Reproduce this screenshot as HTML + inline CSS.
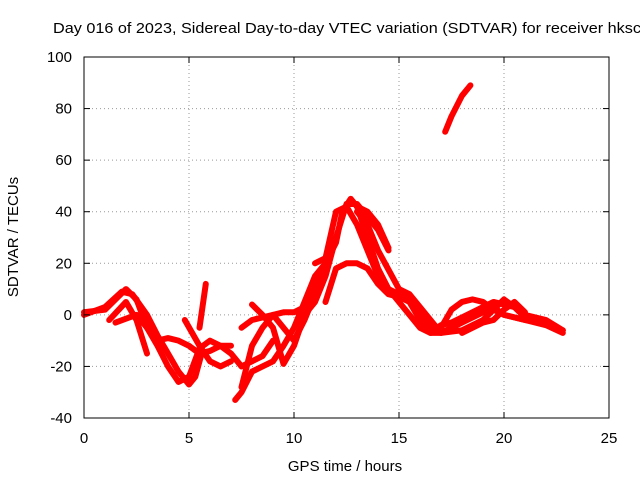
<!DOCTYPE html>
<html><head><meta charset="utf-8"><style>
html,body{margin:0;padding:0;background:#fff}
svg{display:block;font-family:"Liberation Sans",sans-serif;font-size:15px}
</style></head><body>
<svg id="chart" width="640" height="480">
<text x="53" y="33" textLength="588" lengthAdjust="spacingAndGlyphs">Day 016 of 2023, Sidereal Day-to-day VTEC variation (SDTVAR) for receiver hksc</text>
<g id="grid"></g><g id="series"></g>
<rect x="84" y="57" width="525" height="361" fill="none" stroke="#000" stroke-width="1"/>
<g id="axes"></g>
<text x="345" y="471" text-anchor="middle">GPS time / hours</text>
<text transform="translate(18,237) rotate(-90)" text-anchor="middle">SDTVAR / TECUs</text>
</svg>
<script>
const xTicks=[0,5,10,15,20,25];
const yTicks=[-40,-20,0,20,40,60,80,100];
const t1=[[0,0],[1,3],[1.8,9],[2.3,8],[3,0],[3.5,-8],[4,-15],[4.5,-22],[5,-27],[5.3,-24],[5.6,-15]];
const t2=[[0,1],[1,2],[2,10],[2.5,6],[3,-5],[3.5,-12],[4,-20],[4.5,-26],[5,-24],[5.5,-13],[6,-10],[6.5,-12],[7,-12]];
const t3=[[1.2,-2],[2,5],[2.5,-2],[3,-15]];
const t4=[[1.5,-3],[2.5,0],[3,-5],[3.5,-10],[4,-9],[4.5,-10],[5,-12],[5.5,-15],[6,-14],[6.5,-12],[7,-15],[7.5,-20],[8,-18],[8.5,-16],[9,-10]];
const t5=[[4.8,-2],[5.5,-12],[6,-18],[6.5,-20],[7,-18]];
const t6=[[5.5,-5],[5.8,12]];
const t7=[[7.2,-33],[7.5,-30],[8,-22],[8.5,-20],[9,-18],[9.5,-12],[10,-5],[10.5,5],[11,15],[11.5,20],[12,30]];
const t8=[[7.5,-28],[8,-12],[8.5,-5],[9,0],[9.5,-5],[10,-10],[10.5,-2],[11,8]];
const t9=[[8,4],[8.5,0],[9,-5],[9.5,-19],[10,-12],[10.5,0],[11,5],[11.5,15],[12,30],[12.5,43],[13,43],[13.5,38],[14,33],[14.5,25]];
const t10=[[7.5,-5],[8,-2],[9,0],[9.5,1],[10,1],[10.5,3],[11,10],[11.5,20],[12,28],[12.3,40],[12.7,45],[13,42],[13.5,30],[14,18],[14.5,10],[15,5],[15.5,0],[16,-5],[16.5,-7],[17,-7],[17.5,-5],[18,-3],[18.5,-1],[19,1],[19.5,3],[20,0],[21,-2],[22,-3],[22.8,-6]];
const t11=[[11,20],[11.5,22],[12,40],[12.5,42],[13,35],[13.5,25],[14,15],[14.5,10],[15,8],[15.5,6],[16,0],[16.5,-5],[17,-5],[17.5,2],[18,5],[18.5,6],[19,5],[19.5,2],[20,0],[21,-2],[22,-4],[22.8,-7]];
const t12=[[11.5,5],[12,18],[12.5,20],[13,20],[13.5,18],[14,12],[14.5,8],[15,7],[15.5,5],[16,-2],[16.5,-7],[17,-4],[17.5,-3],[18,-1],[19,3],[19.5,5],[20.5,3],[21,0],[22,-2],[22.8,-6]];
const t13=[[13,40],[13.5,35],[14,25],[15,10],[15.5,8],[16,3],[16.5,-2],[17,-7],[18,-6],[19,-2],[19.5,2],[20,6],[20.5,3],[21,-1]];
const t14=[[17.2,71],[17.5,77],[18,85],[18.4,89]];
const t15=[[13,42],[13.5,40],[14,35],[14.5,26]];
const t16=[[18,-7],[19,-3],[19.5,-2],[20,2],[20.5,5],[21,1]];
const tracks=[t1,t2,t3,t4,t5,t6,t7,t8,t9,t10,t11,t12,t13,t14,t15,t16];
const NS="http://www.w3.org/2000/svg";
const X=v=>84+v*21, Y=v=>418-(v+40)*361/140;
const grid=document.getElementById('grid'),axes=document.getElementById('axes'),ser=document.getElementById('series');
function mk(tag,a,p){const e=document.createElementNS(NS,tag);for(const k in a)e.setAttribute(k,a[k]);p.appendChild(e);return e;}
xTicks.forEach(t=>{const x=X(t);
 if(t>0&&t<25){const g=mk('line',{x1:x,x2:x,y1:57,y2:418,stroke:'#999','stroke-dasharray':'1,3'},grid);
 
 }
 mk('line',{x1:x,x2:x,y1:418,y2:412,stroke:'#000'},axes);mk('line',{x1:x,x2:x,y1:57,y2:63,stroke:'#000'},axes);
 const l=mk('text',{x:x,y:443,'text-anchor':'middle'},axes);l.textContent=t;
 
 });
yTicks.forEach(t=>{const y=Y(t);
 if(t>-40&&t<100){const g=mk('line',{x1:84,x2:609,y1:y,y2:y,stroke:'#999','stroke-dasharray':'1,3'},grid);
 
 }
 mk('line',{x1:84,x2:90,y1:y,y2:y,stroke:'#000'},axes);mk('line',{x1:609,x2:603,y1:y,y2:y,stroke:'#000'},axes);
 const l=mk('text',{x:72,y:y+5,'text-anchor':'end'},axes);l.textContent=t;
 
 });
tracks.forEach((tr,i)=>{
 const p=mk('polyline',{points:tr.map(d=>X(d[0])+','+Y(d[1])).join(' '),fill:'none',stroke:'#f00','stroke-width':6,'stroke-linejoin':'round','stroke-linecap':'round'},ser);
 
 
});
</script>
</body></html>
